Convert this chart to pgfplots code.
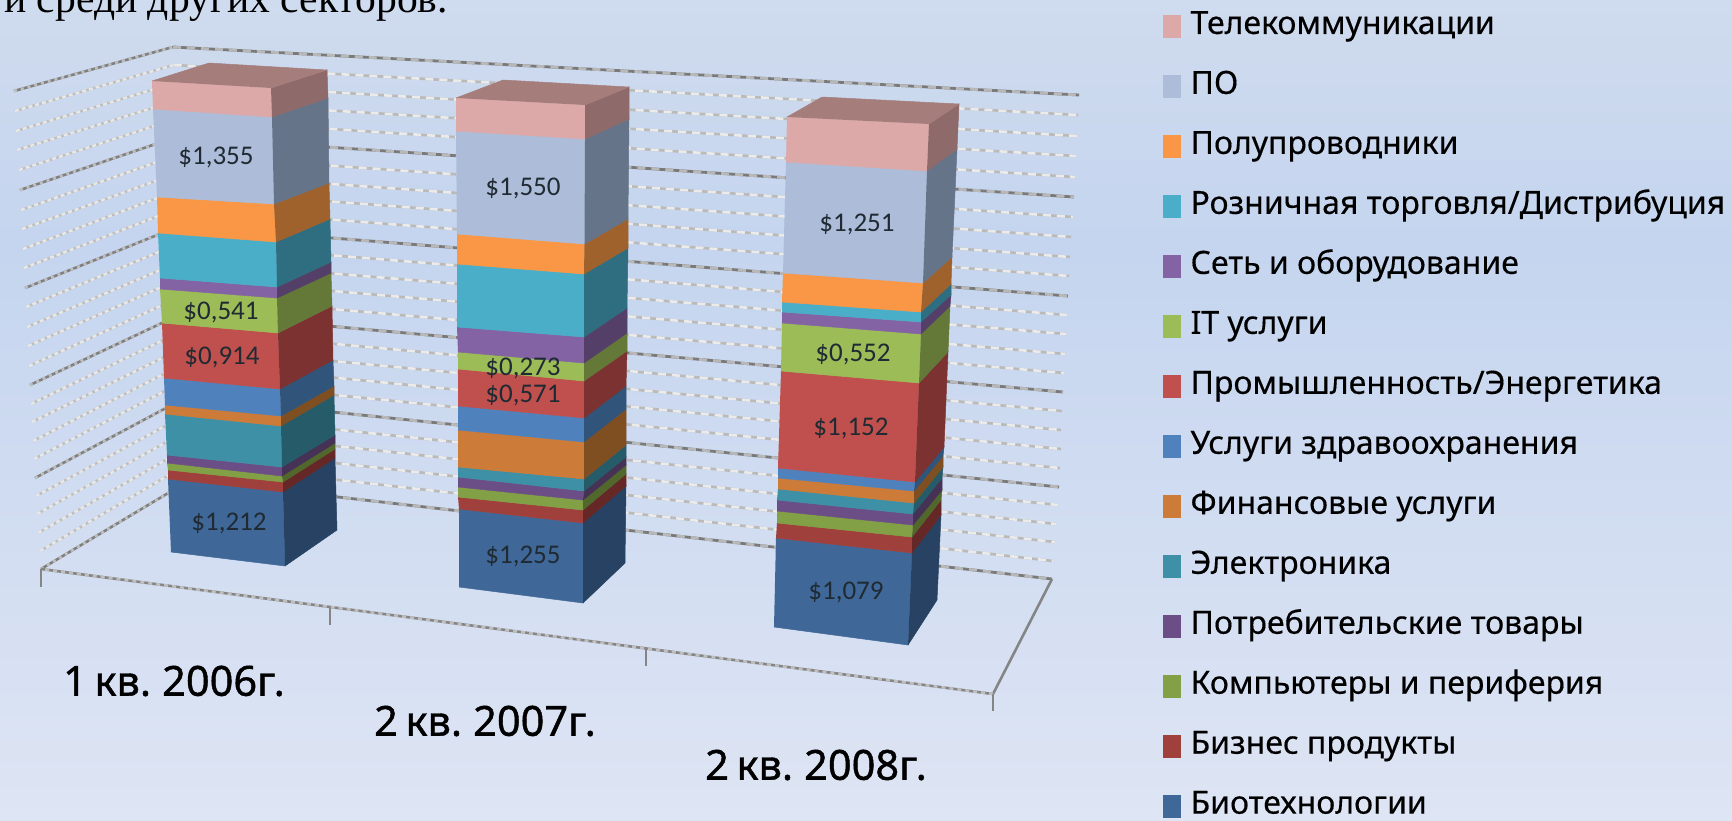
\documentclass[border=0pt]{standalone}
\usepackage{fontspec}
\usepackage{pgfplots}
\pgfplotsset{compat=1.18}
\setmainfont{Carlito}
\newfontfamily\lgf[FakeBold=0.35]{Noto Sans}
\newfontfamily\catf[FakeBold=1.0,WordSpace=0.7]{Noto Sans}
\newfontfamily\tmf{Liberation Serif}
\definecolor{bgT}{RGB}{207,219,238}
\definecolor{bgM}{RGB}{197,213,239}
\definecolor{bgB}{RGB}{222,229,244}
\pgfdeclareverticalshading{slidebg}{100bp}{color(0bp)=(bgB);color(25bp)=(bgB);color(60bp)=(bgM);color(75bp)=(bgT);color(100bp)=(bgT)}
\definecolor{tel}{HTML}{DCA8A8}\definecolor{telS}{HTML}{8F6A6A}\definecolor{telT}{HTML}{A57E7C}
\definecolor{po}{HTML}{ADBCD8}\definecolor{poS}{HTML}{667489}
\definecolor{sem}{HTML}{F99746}\definecolor{semS}{HTML}{A0622C}
\definecolor{ret}{HTML}{4AAEC8}\definecolor{retS}{HTML}{2F6E80}
\definecolor{net}{HTML}{8363A3}\definecolor{netS}{HTML}{543F69}
\definecolor{its}{HTML}{9CBC57}\definecolor{itsS}{HTML}{647838}
\definecolor{ind}{HTML}{C0504D}\definecolor{indS}{HTML}{7B3231}
\definecolor{hea}{HTML}{4F81BD}\definecolor{heaS}{HTML}{31547A}
\definecolor{fin}{HTML}{CC7B38}\definecolor{finS}{HTML}{7F4F22}
\definecolor{ele}{HTML}{3D90A6}\definecolor{eleS}{HTML}{265C6A}
\definecolor{con}{HTML}{6C4E86}\definecolor{conS}{HTML}{453255}
\definecolor{com}{HTML}{82A045}\definecolor{comS}{HTML}{52672B}
\definecolor{biz}{HTML}{A0403D}\definecolor{bizS}{HTML}{652827}
\definecolor{bio}{HTML}{3F6898}\definecolor{bioS}{HTML}{274262}
\definecolor{lab}{HTML}{1F2A33}
\newcommand{\seg}[7]{%
  \addplot[fill=#1,draw=#1,line width=.5pt,forget plot] coordinates {#2#3#6#5};
  \addplot[fill=#1S,draw=#1S,line width=.5pt,forget plot] coordinates {#3#4#7#6};}
\newcommand{\val}[3]{\node[font=\fontsize{27}{30}\selectfont,text=lab] at (axis cs:#1,#2) {#3};}
\newcommand{\cat}[3]{\node[font=\catf\fontsize{41.5}{46}\selectfont,text=black] at (axis cs:#1,#2) {#3};}
\begin{document}
\begin{tikzpicture}
\useasboundingbox (0,0) rectangle (1732pt,820pt);
\clip (0,0) rectangle (1732pt,820pt);
\shade[shading=slidebg] (0,0) rectangle (1732pt,820pt);
\begin{axis}[
  at={(0,0)},anchor=south west,
  width=1732pt,height=820pt,scale only axis,
  xmin=0,xmax=1732,ymin=0,ymax=820,y dir=reverse,
  hide axis,clip=false,unbounded coords=jump,
  legend image code/.code={\fill[#1] (0pt,-11pt) rectangle (18pt,12pt);},
  legend cell align=left,
  legend style={at={(0.6712,0.983)},anchor=north west,draw=none,fill=none,
    font=\lgf\fontsize{32}{36}\selectfont,row sep=32.98pt,inner sep=0pt,outer sep=0pt,
    nodes={inner sep=0pt,outer sep=0pt,text height=20pt,text depth=7pt},
    /tikz/every odd column/.append style={column sep=10pt}},
]
% left wall, light lines
\addplot[line width=2.4pt,color=black!25,forget plot] coordinates {
(15,111)(173.7,65) (nan,nan) (16,131)(174.4,83) (nan,nan) (17,150)(175,101) (nan,nan) (19,170)(175.7,119) (nan,nan)
(21,210)(177,155) (nan,nan) (22,229)(177.8,173) (nan,nan) (23,249)(178.4,190) (nan,nan) (24,268)(179,208) (nan,nan)
(26,307)(180.5,243) (nan,nan) (27,327)(181.2,261) (nan,nan) (28,346)(181.8,278) (nan,nan) (29,366)(182.5,296) (nan,nan)
(31,404)(183.9,330) (nan,nan) (32,422)(184.6,347) (nan,nan) (33,441)(185.2,363) (nan,nan) (34,459)(185.9,380) (nan,nan)
(36,496)(187.3,414) (nan,nan) (37,514)(188,430) (nan,nan) (38,533)(188.6,447) (nan,nan) (40,551)(189.3,463)};
\addplot[line width=2.4pt,color=black!9,dash pattern=on 4pt off 3pt,forget plot] coordinates {
(15,111)(173.7,65) (nan,nan) (16,131)(174.4,83) (nan,nan) (17,150)(175,101) (nan,nan) (19,170)(175.7,119) (nan,nan)
(21,210)(177,155) (nan,nan) (22,229)(177.8,173) (nan,nan) (23,249)(178.4,190) (nan,nan) (24,268)(179,208) (nan,nan)
(26,307)(180.5,243) (nan,nan) (27,327)(181.2,261) (nan,nan) (28,346)(181.8,278) (nan,nan) (29,366)(182.5,296) (nan,nan)
(31,404)(183.9,330) (nan,nan) (32,422)(184.6,347) (nan,nan) (33,441)(185.2,363) (nan,nan) (34,459)(185.9,380) (nan,nan)
(36,496)(187.3,414) (nan,nan) (37,514)(188,430) (nan,nan) (38,533)(188.6,447) (nan,nan) (40,551)(189.3,463)};
% left wall, major lines
\addplot[line width=2.6pt,color=black!50,forget plot] coordinates {
(14,91)(173,47) (nan,nan) (20,190)(176.4,137) (nan,nan) (25,288)(179.8,226) (nan,nan) (30,385)(183.2,313) (nan,nan) (35,478)(186.6,397) (nan,nan) (41,569)(190,480)};
\addplot[line width=2.6pt,color=black!25,dash pattern=on 3pt off 4pt,forget plot] coordinates {
(14,91)(173,47) (nan,nan) (20,190)(176.4,137) (nan,nan) (25,288)(179.8,226) (nan,nan) (30,385)(183.2,313) (nan,nan) (35,478)(186.6,397) (nan,nan) (41,569)(190,480)};
% back wall, light lines
\addplot[line width=2.6pt,color=black!27,forget plot] coordinates {
(173.7,65)(1078,115) (nan,nan) (174.4,83)(1077,136) (nan,nan) (175,101)(1076,156) (nan,nan) (175.7,119)(1075,177) (nan,nan)
(177,155)(1073,217) (nan,nan) (177.8,173)(1072,237) (nan,nan) (178.4,190)(1070,257) (nan,nan) (179,208)(1069,276) (nan,nan)
(180.5,243)(1067,315) (nan,nan) (181.2,261)(1066,334) (nan,nan) (181.8,278)(1065,354) (nan,nan) (182.5,296)(1064,373) (nan,nan)
(183.9,330)(1062,411) (nan,nan) (184.6,347)(1061,430) (nan,nan) (185.2,363)(1061,449) (nan,nan) (185.9,380)(1060,468) (nan,nan)
(187.3,414)(1058,505) (nan,nan) (188,430)(1056,524) (nan,nan) (188.6,447)(1055,542) (nan,nan) (189.3,463)(1053,561)};
\addplot[line width=2.6pt,color=black!8,dash pattern=on 8pt off 6pt,forget plot] coordinates {
(173.7,65)(1078,115) (nan,nan) (174.4,83)(1077,136) (nan,nan) (175,101)(1076,156) (nan,nan) (175.7,119)(1075,177) (nan,nan)
(177,155)(1073,217) (nan,nan) (177.8,173)(1072,237) (nan,nan) (178.4,190)(1070,257) (nan,nan) (179,208)(1069,276) (nan,nan)
(180.5,243)(1067,315) (nan,nan) (181.2,261)(1066,334) (nan,nan) (181.8,278)(1065,354) (nan,nan) (182.5,296)(1064,373) (nan,nan)
(183.9,330)(1062,411) (nan,nan) (184.6,347)(1061,430) (nan,nan) (185.2,363)(1061,449) (nan,nan) (185.9,380)(1060,468) (nan,nan)
(187.3,414)(1058,505) (nan,nan) (188,430)(1056,524) (nan,nan) (188.6,447)(1055,542) (nan,nan) (189.3,463)(1053,561)};
% back wall, major lines
\addplot[line width=2.8pt,color=black!52,forget plot] coordinates {
(173,47)(1079,95) (nan,nan) (176.4,137)(1074,197) (nan,nan) (179.8,226)(1068,296) (nan,nan) (183.2,313)(1063,392) (nan,nan) (186.6,397)(1059,487) (nan,nan) (190,480)(1052,579)};
\addplot[line width=2.8pt,color=black!28,dash pattern=on 8pt off 6pt,forget plot] coordinates {
(173,47)(1079,95) (nan,nan) (176.4,137)(1074,197) (nan,nan) (179.8,226)(1068,296) (nan,nan) (183.2,313)(1063,392) (nan,nan) (186.6,397)(1059,487) (nan,nan) (190,480)(1052,579)};
% floor front and right edges with ticks
\addplot[line width=2.6pt,color=black!48,forget plot] coordinates {(1052,579)(993,694)(41,569)};
\addplot[line width=2.6pt,color=black!25,dash pattern=on 4pt off 4pt,forget plot] coordinates {(993,694)(41,569)};
\addplot[line width=2.6pt,color=black!48,forget plot] coordinates {(41,569)(41,587) (nan,nan) (330,607)(330,625) (nan,nan) (646,648)(646,666) (nan,nan) (993,694)(993,711)};
% bar 1: 1 kv. 2006
\seg{bio}{(168,479)}{(283,492)}{(335,458)}{(171,552)}{(285,566)}{(337,530)}
\seg{biz}{(168,470)}{(283,482)}{(335,449)}{(168,479)}{(283,492)}{(335,458)}
\seg{com}{(167,463)}{(282,476)}{(335,443)}{(168,470)}{(283,482)}{(335,449)}
\seg{con}{(167,455)}{(282,467)}{(335,435)}{(167,463)}{(282,476)}{(335,443)}
\seg{ele}{(165,414)}{(281,426)}{(334,395)}{(167,455)}{(282,467)}{(335,435)}
\seg{fin}{(165,405)}{(281,416)}{(334,386)}{(165,414)}{(281,426)}{(334,395)}
\seg{hea}{(164,378)}{(280,389)}{(333,360)}{(165,405)}{(281,416)}{(334,386)}
\seg{ind}{(162,323)}{(278,333)}{(332,306)}{(164,378)}{(280,389)}{(333,360)}
\seg{its}{(160,289)}{(277,298)}{(331,273)}{(162,323)}{(278,333)}{(332,306)}
\seg{net}{(160,278)}{(277,287)}{(331,262)}{(160,289)}{(277,298)}{(331,273)}
\seg{ret}{(158,233)}{(276,242)}{(330,219)}{(160,278)}{(277,287)}{(331,262)}
\seg{sem}{(157,197)}{(274,204)}{(329,183)}{(158,233)}{(276,242)}{(330,219)}
\seg{po}{(153,109)}{(272,117)}{(328,98)}{(157,197)}{(274,204)}{(329,183)}
\seg{tel}{(152,81)}{(271,88)}{(327,70)}{(153,109)}{(272,117)}{(328,98)}
\addplot[fill=telT,draw=telT,line width=.5pt,forget plot] coordinates {(152,81)(209,63)(327,70)(271,88)};
% bar 2: 2 kv. 2007
\seg{bio}{(459,509)}{(583,523)}{(626,486)}{(459,587)}{(583,603)}{(625,563)}
\seg{biz}{(458,497)}{(583,510)}{(626,474)}{(459,509)}{(583,523)}{(626,486)}
\seg{com}{(458,487)}{(583,500)}{(626,465)}{(458,497)}{(583,510)}{(626,474)}
\seg{con}{(458,477)}{(584,491)}{(626,457)}{(458,487)}{(583,500)}{(626,465)}
\seg{ele}{(458,467)}{(584,479)}{(626,445)}{(458,477)}{(584,491)}{(626,457)}
\seg{fin}{(458,430)}{(584,442)}{(626,409)}{(458,467)}{(584,479)}{(626,445)}
\seg{hea}{(458,406)}{(584,418)}{(626,386)}{(458,430)}{(584,442)}{(626,409)}
\seg{ind}{(458,369)}{(584,381)}{(627,351)}{(458,406)}{(584,418)}{(626,386)}
\seg{its}{(458,352)}{(584,363)}{(627,333)}{(458,369)}{(584,381)}{(627,351)}
\seg{net}{(457,327)}{(584,337)}{(627,308)}{(458,352)}{(584,363)}{(627,333)}
\seg{ret}{(457,264)}{(584,274)}{(628,248)}{(457,327)}{(584,337)}{(627,308)}
\seg{sem}{(457,234)}{(584.5,244)}{(628,219)}{(457,264)}{(584,274)}{(628,248)}
\seg{po}{(456,131)}{(585,139)}{(629,119)}{(457,234)}{(584.5,244)}{(628,219)}
\seg{tel}{(456,98)}{(585,105)}{(629,87)}{(456,131)}{(585,139)}{(629,119)}
\addplot[fill=telT,draw=telT,line width=.5pt,forget plot] coordinates {(456,98)(503,80)(629,87)(585,105)};
% bar 3: 2 kv. 2008
\seg{bio}{(776,538)}{(912,553)}{(941,515)}{(774,627)}{(908,645)}{(937,600)}
\seg{biz}{(777,523)}{(912,537)}{(941,500)}{(776,538)}{(912,553)}{(941,515)}
\seg{com}{(777,511)}{(913,525)}{(942,490)}{(777,523)}{(912,537)}{(941,500)}
\seg{con}{(777,500)}{(913,514)}{(942,478)}{(777,511)}{(913,525)}{(942,490)}
\seg{ele}{(778,489)}{(914,503)}{(943,467)}{(777,500)}{(913,514)}{(942,478)}
\seg{fin}{(778,478)}{(914,491)}{(943,456)}{(778,489)}{(914,503)}{(943,467)}
\seg{hea}{(778,468)}{(915,482)}{(944,447)}{(778,478)}{(914,491)}{(943,456)}
\seg{ind}{(781,371)}{(919,383)}{(948,352)}{(778,468)}{(915,482)}{(944,447)}
\seg{its}{(782,323)}{(921,334)}{(950,306)}{(781,371)}{(919,383)}{(948,352)}
\seg{net}{(782,312)}{(921,322)}{(951,295)}{(782,323)}{(921,334)}{(950,306)}
\seg{ret}{(782,302)}{(921,312)}{(951,284)}{(782,312)}{(921,322)}{(951,295)}
\seg{sem}{(783,273)}{(923,283)}{(952,257)}{(782,302)}{(921,312)}{(951,284)}
\seg{po}{(786,162)}{(927,171)}{(957,149)}{(783,273)}{(923,283)}{(952,257)}
\seg{tel}{(787,117)}{(929,124)}{(959,104)}{(786,162)}{(927,171)}{(957,149)}
\addplot[fill=telT,draw=telT,line width=.5pt,forget plot] coordinates {(787,117)(822,97)(959,104)(929,124)};
% legend
\addlegendimage{fill=tel,draw=none}\addlegendentry{Телекоммуникации}
\addlegendimage{fill=po,draw=none}\addlegendentry{ПО}
\addlegendimage{fill=sem,draw=none}\addlegendentry{Полупроводники}
\addlegendimage{fill=ret,draw=none}\addlegendentry{Розничная торговля/Дистрибуция}
\addlegendimage{fill=net,draw=none}\addlegendentry{Сеть и оборудование}
\addlegendimage{fill=its,draw=none}\addlegendentry{IT услуги}
\addlegendimage{fill=ind,draw=none}\addlegendentry{Промышленность/Энергетика}
\addlegendimage{fill=hea,draw=none}\addlegendentry{Услуги здравоохранения}
\addlegendimage{fill=fin,draw=none}\addlegendentry{Финансовые услуги}
\addlegendimage{fill=ele,draw=none}\addlegendentry{Электроника}
\addlegendimage{fill=con,draw=none}\addlegendentry{Потребительские товары}
\addlegendimage{fill=com,draw=none}\addlegendentry{Компьютеры и периферия}
\addlegendimage{fill=biz,draw=none}\addlegendentry{Бизнес продукты}
\addlegendimage{fill=bio,draw=none}\addlegendentry{Биотехнологии}
% value labels
\val{216}{157}{\$1,355}\val{221}{312}{\$0,541}\val{222}{357}{\$0,914}\val{229}{523}{\$1,212}
\val{523}{188}{\$1,550}\val{523}{368}{\$0,273}\val{523}{395}{\$0,571}\val{523}{556}{\$1,255}
\val{857}{224}{\$1,251}\val{853}{354}{\$0,552}\val{851}{428}{\$1,152}\val{846}{592}{\$1,079}
% category labels
\cat{174}{681}{1 кв. 2006г.}
\cat{485}{721}{2 кв. 2007г.}
\cat{816}{765}{2 кв. 2008г.}
% cropped sentence at the top edge
\node[font=\tmf\fontsize{41.6}{46}\selectfont,anchor=base east,text=black,inner sep=0pt] at (axis cs:448,12.5) {и среди других секторов.};
\end{axis}
\end{tikzpicture}
\end{document}
